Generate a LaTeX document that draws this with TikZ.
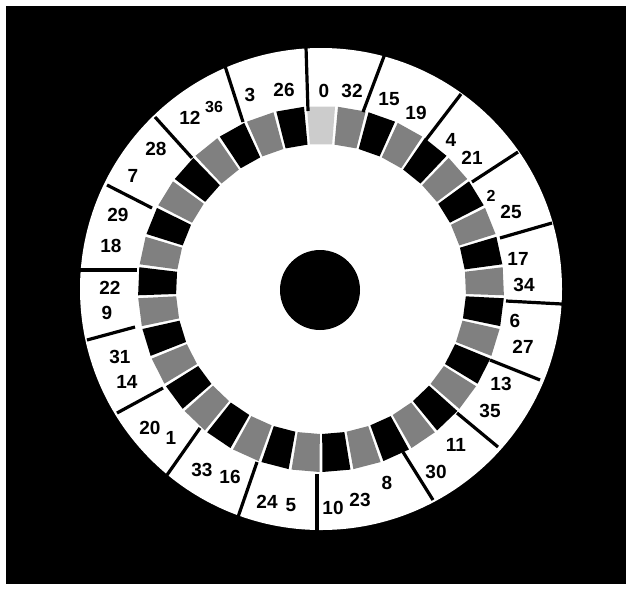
\documentclass[tikz,border=0pt]{standalone}
\usepackage{fontspec}
\setmainfont{Liberation Sans}
\usepackage{tikz}
\definecolor{redpocket}{gray}{0.5}
\definecolor{zeropocket}{gray}{0.8}

\begin{document}
\begin{tikzpicture}[
  x=1pt, y=-1pt,
  num/.style={font=\fontsize{19}{19}\selectfont\bfseries, inner sep=0pt},
  smallnum/.style={font=\fontsize{16}{16}\selectfont\bfseries, inner sep=0pt},
  divider/.style={line width=3.2pt, black}]

  \useasboundingbox (0,0) rectangle (626,590);
  \fill[white] (0,0) rectangle (626,590);
  \fill[black] (6,6) rectangle (626,584);

  % wheel body
  \fill[white] (321,289) circle (241);

  % pockets, clockwise from the zero
  \begin{scope}[shift={(321,289)}]
    \foreach \num/\col [count=\i from 0] in {0/zeropocket, 32/redpocket, 15/black,
        19/redpocket, 4/black, 21/redpocket, 2/black, 25/redpocket, 17/black,
        34/redpocket, 6/black, 27/redpocket, 13/black, 36/redpocket, 11/black,
        30/redpocket, 8/black, 23/redpocket, 10/black, 5/redpocket, 24/black,
        16/redpocket, 33/black, 1/redpocket, 20/black, 14/redpocket, 31/black,
        9/redpocket, 22/black, 18/redpocket, 29/black, 7/redpocket, 28/black,
        12/redpocket, 35/black, 3/redpocket, 26/black} {
      \pgfmathsetmacro\lo{\i*360/37-94.4}
      \pgfmathsetmacro\hi{\i*360/37-85.6}
      \fill[\col] (\lo:145) -- (\lo:183) -- (\hi:183) -- (\hi:145) -- cycle;
    }
  \end{scope}

  % hub
  \fill[black] (320,290) circle (40);

  % dividers of the number ring
  \draw[divider] (306,47) -- (308,111);
  \draw[divider] (386,51) -- (363,112);
  \draw[divider] (461,94) -- (425,141);
  \draw[divider] (518,152) -- (472,182);
  \draw[divider] (552,223) -- (500,238);
  \draw[divider] (562,304) -- (506,301);
  \draw[divider] (540,380) -- (490,360);
  \draw[divider] (498,447) -- (457,413);
  \draw[divider] (433,500) -- (403,452);
  \draw[divider] (317,530) -- (317,474);
  \draw[divider] (238,517) -- (257,462);
  \draw[divider] (167,475) -- (200,428);
  \draw[divider] (117,413) -- (163,388);
  \draw[divider] (87,340) -- (135,327);
  \draw[divider] (80,270) -- (137,270);
  \draw[divider] (107,185) -- (152,208);
  \draw[divider] (155,117) -- (192,158);
  \draw[divider] (225,66) -- (243,122);

  % numbers
  \foreach \num/\px/\py in {0/324/91, 32/352/91, 15/389/99, 19/416/113,
      4/451/140, 21/472/158, 25/511/212, 17/518/259, 34/524/285,
      6/515/321, 27/523/347, 13/501/384, 35/490/411, 11/456/445,
      30/436/472, 8/387/483, 23/360/500, 10/333/508, 5/291/505,
      24/267/502, 16/230/477, 33/202/470, 1/171/438, 20/150/428,
      14/127/382, 31/120/357, 9/107/313, 22/110/288, 18/111/246,
      29/118/215, 7/133/176, 28/156/149, 12/190/118, 3/250/95, 26/284/90}
    \node[num] (lab\num) at (\px,\py) {\num};
  \node[smallnum] (lab2) at (491,196) {2};
  \node[smallnum] (lab36) at (214,107) {36};
\end{tikzpicture}
\end{document}
